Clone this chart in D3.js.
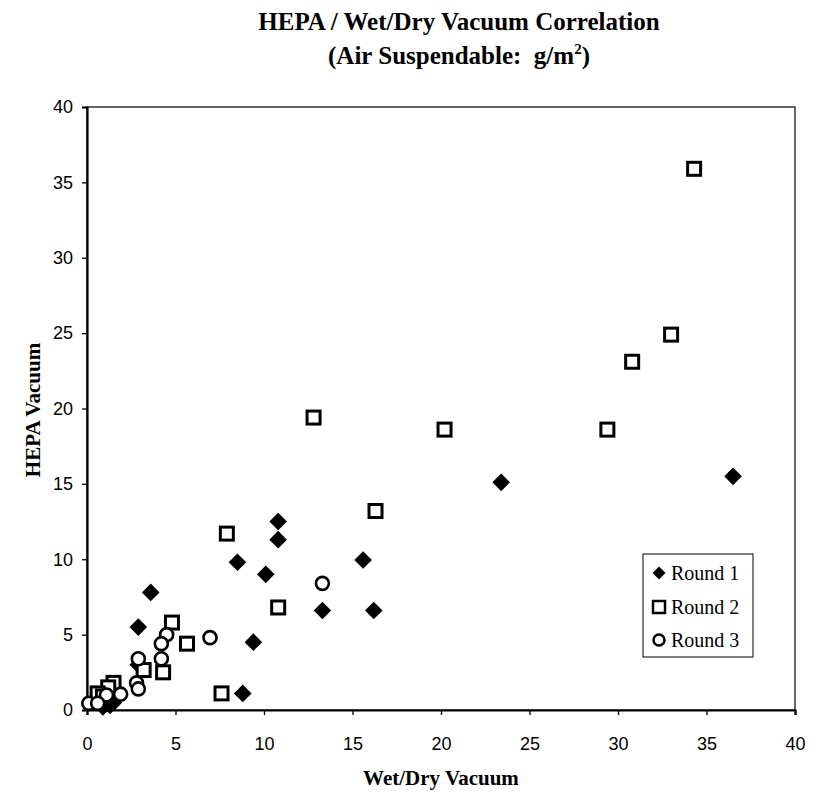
<!DOCTYPE html>
<html><head><meta charset="utf-8">
<script src="https://cdn.jsdelivr.net/npm/d3@7"></script>
<style>body{margin:0;background:#fff}</style>
</head><body>
<svg id="chart" width="818" height="794"></svg>
<script>
const round1X = [36.5, 23.4, 10.8, 10.8, 8.5, 10.1, 15.6, 3.6, 2.9, 13.3, 16.2, 9.4, 8.8, 2.9, 1.3, 0.9, 1.5];
const round1Y = [15.5, 15.1, 12.5, 11.3, 9.8, 9.0, 9.95, 7.8, 5.5, 6.6, 6.6, 4.5, 1.1, 3.0, 0.3, 0.2, 0.5];
const round2X = [34.3, 33.0, 30.8, 29.4, 20.2, 12.8, 16.3, 7.9, 10.8, 5.65, 4.8, 4.3, 3.2, 7.6, 1.5, 1.2, 0.6, 0.9];
const round2Y = [35.9, 24.9, 23.1, 18.6, 18.6, 19.4, 13.2, 11.7, 6.8, 4.4, 5.8, 2.5, 2.65, 1.1, 1.8, 1.5, 1.1, 0.9];
const round3X = [13.3, 6.95, 4.5, 4.2, 4.2, 2.9, 2.8, 2.9, 1.9, 1.1, 0.1, 0.6];
const round3Y = [8.4, 4.8, 5.0, 4.4, 3.4, 3.4, 1.8, 1.4, 1.05, 1.0, 0.45, 0.45];
const tickValues = [0, 5, 10, 15, 20, 25, 30, 35, 40];
const seriesNames = ["Round 1", "Round 2", "Round 3"];

const svg = d3.select("#chart");
const L = 87, R = 795, T = 107, B = 710;
const x = d3.scaleLinear().domain([0, 40]).range([L, R]);
const y = d3.scaleLinear().domain([0, 40]).range([B, T]);

svg.append("rect").attr("x", L).attr("y", T).attr("width", R - L).attr("height", B - T)
  .attr("fill", "none").attr("stroke", "#000").attr("stroke-width", 1.2);

const xAxis = svg.append("g").attr("transform", `translate(0,${B})`)
  .call(d3.axisBottom(x).tickValues(tickValues).tickSize(5).tickPadding(22).tickFormat(d3.format("d")));
const yAxis = svg.append("g").attr("transform", `translate(${L},0)`)
  .call(d3.axisLeft(y).tickValues(tickValues).tickSize(5).tickPadding(9).tickFormat(d3.format("d")));
[xAxis, yAxis].forEach(g => {
  g.select(".domain").attr("stroke-width", 2.2);
  g.selectAll("text").attr("font-family", "Liberation Sans, Arial, sans-serif").attr("font-size", 18).attr("fill", "#000");
  g.selectAll("line").attr("stroke", "#000").attr("stroke-width", 1.3);
});

const serif = "Liberation Serif, Times New Roman, serif";
svg.append("text").attr("x", 459).attr("y", 30).attr("text-anchor", "middle")
  .attr("font-family", serif).attr("font-weight", "bold").attr("font-size", 25)
  .text("HEPA / Wet/Dry Vacuum Correlation");
const t2 = svg.append("text").attr("x", 459).attr("y", 64).attr("text-anchor", "middle")
  .attr("font-family", serif).attr("font-weight", "bold").attr("font-size", 25);
t2.append("tspan").text("(Air Suspendable:\u00a0 g/m");
t2.append("tspan").attr("dy", -10).attr("font-size", 15).text("2");
t2.append("tspan").attr("dy", 10).text(")");

svg.append("text").attr("x", 441).attr("y", 785).attr("text-anchor", "middle")
  .attr("font-family", serif).attr("font-weight", "bold").attr("font-size", 21).attr("fill", "#000")
  .text("Wet/Dry Vacuum");
svg.append("text").attr("transform", "translate(40,410) rotate(-90)").attr("text-anchor", "middle")
  .attr("font-family", serif).attr("font-weight", "bold").attr("font-size", 21).attr("fill", "#000")
  .text("HEPA Vacuum");

const plot = svg.append("g");
const r3 = round3X.map((v, i) => [v, round3Y[i]]);
const r2 = round2X.map((v, i) => [v, round2Y[i]]);
const r1 = round1X.map((v, i) => [v, round1Y[i]]);

plot.selectAll(".r1").data(r1).join("path")
  .attr("transform", d => `translate(${x(d[0])},${y(d[1])}) rotate(45)`)
  .attr("d", d3.symbol().type(d3.symbolSquare).size(155)).attr("fill", "#000");
plot.selectAll(".r2").data(r2).join("rect")
  .attr("x", d => x(d[0]) - 6.5).attr("y", d => y(d[1]) - 6.5)
  .attr("width", 13).attr("height", 13)
  .attr("fill", "#fff").attr("stroke", "#000").attr("stroke-width", 3);
plot.selectAll(".r3").data(r3).join("circle")
  .attr("cx", d => x(d[0])).attr("cy", d => y(d[1])).attr("r", 6.5)
  .attr("fill", "#fff").attr("stroke", "#000").attr("stroke-width", 2.6);

const lg = svg.append("g");
lg.append("rect").attr("x", 643).attr("y", 554).attr("width", 110).attr("height", 103)
  .attr("fill", "#fff").attr("stroke", "#000").attr("stroke-width", 1);
const ly = [573, 607, 640];
lg.append("path").attr("transform", `translate(659,${ly[0]}) rotate(45)`)
  .attr("d", d3.symbol().type(d3.symbolSquare).size(85)).attr("fill", "#000");
lg.append("rect").attr("x", 653).attr("y", ly[1] - 6).attr("width", 12).attr("height", 12)
  .attr("fill", "#fff").attr("stroke", "#000").attr("stroke-width", 2.5);
lg.append("circle").attr("cx", 659).attr("cy", ly[2]).attr("r", 5.5)
  .attr("fill", "#fff").attr("stroke", "#000").attr("stroke-width", 2.5);
seriesNames.forEach((n, i) => {
  lg.append("text").attr("x", 671).attr("y", ly[i] + 7).attr("font-family", serif)
    .attr("font-size", 20).text(n);
});
</script>
</body></html>
